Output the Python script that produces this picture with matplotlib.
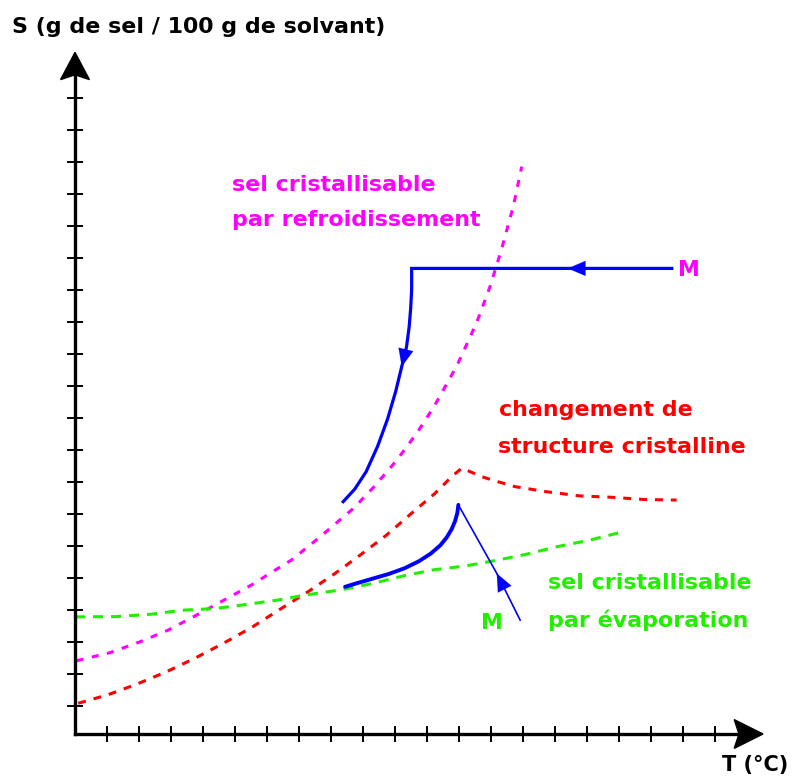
import numpy as np
import matplotlib
matplotlib.use("Agg")
import matplotlib.pyplot as plt
from matplotlib.patches import Polygon

# ---------------- data (T units, S units) ----------------
mag_T = [0.05, 1.09, 2.03, 2.92, 3.75, 4.63, 5.52, 6.35, 6.77, 7.66, 8.70, 9.32,
         10.05, 10.68, 11.20, 11.93, 12.55, 12.97, 13.33, 13.70, 13.96]
mag_S = [2.29, 2.54, 2.88, 3.25, 3.69, 4.17, 4.66, 5.18, 5.44, 6.16, 7.05, 7.70,
         8.55, 9.40, 10.20, 11.50, 12.85, 13.98, 15.15, 16.50, 17.73]

red_T = [0.10, 1.04, 1.91, 2.87, 3.77, 4.63, 5.52, 6.38, 7.29, 8.13, 8.91, 9.74,
         10.52, 11.25, 11.78, 12.09, 12.71, 13.23, 13.75, 14.74, 15.78, 16.72, 17.76, 18.80]
red_S = [0.96, 1.23, 1.55, 1.95, 2.38, 2.83, 3.33, 3.88, 4.45, 5.02, 5.59, 6.22,
         6.90, 7.52, 8.05, 8.31, 8.04, 7.88, 7.73, 7.57, 7.44, 7.40, 7.33, 7.31]

grn_T = [0.0, 1.30, 2.34, 3.38, 4.38, 5.37, 6.30, 7.24, 8.28, 9.32, 10.26, 11.20,
         12.19, 13.13, 14.12, 15.05, 16.09, 17.09]
grn_S = [3.66, 3.67, 3.74, 3.87, 3.92, 4.05, 4.18, 4.35, 4.50, 4.71, 4.94, 5.13,
         5.25, 5.42, 5.62, 5.85, 6.06, 6.31]

# cooling path (from M, left then down)
cool_T = [18.65, 15.40, 10.52, 10.52, 10.49, 10.44, 10.36, 10.21, 10.02, 9.77, 9.46, 9.10, 8.74, 8.38]
cool_S = [14.55, 14.55, 14.55, 13.88, 13.30, 12.70, 12.10, 11.48, 10.70, 9.85, 9.00, 8.20, 7.65, 7.26]
cool_arrows = [1, 7]

# evaporation path (from M, up-left) thin part
evap_T = [13.91, 13.18, 11.98]
evap_S = [3.56, 5.02, 7.16]
evap_arrows = [1]
# then thick curve
evap2_T = [11.98, 11.95, 11.88, 11.77, 11.62, 11.42, 11.12, 10.75, 10.30, 9.80, 9.25, 8.80, 8.44]
evap2_S = [7.16, 6.92, 6.66, 6.40, 6.15, 5.90, 5.64, 5.40, 5.18, 5.00, 4.84, 4.71, 4.60]

x_ticks = list(range(1, 21))
y_ticks = [0.875 + k for k in range(20)]

BLUE = "#0000ff"
MAG = "#ff00ff"
RED = "#ff0000"
GRN = "#22ee00"

# ---------------- figure ----------------
fig = plt.figure(figsize=(7.95, 7.83), dpi=100)
ax = fig.add_axes([0, 0, 1, 1])
ax.set_xlim(-75 / 32, 720 / 32)
ax.set_ylim(-49 / 32, 734 / 32)

for s in ["top", "right"]:
    ax.spines[s].set_visible(False)
ax.spines["left"].set_position(("data", 0))
ax.spines["bottom"].set_position(("data", 0))
ax.spines["left"].set_bounds(0, 20.6)
ax.spines["bottom"].set_bounds(0, 20.7)
for s in ["left", "bottom"]:
    ax.spines[s].set_linewidth(2.4)
    ax.spines[s].set_capstyle("projecting")
ax.set_xticks(x_ticks)
ax.set_yticks(y_ticks)
ax.tick_params(direction="inout", length=11.5, width=1.4, color="black",
               labelbottom=False, labelleft=False)

# axis arrowheads
ax.add_patch(Polygon([[21.5, 0], [20.6, 0.45], [20.75, 0], [20.6, -0.45]],
                     closed=True, color="black", zorder=5))
ax.add_patch(Polygon([[0, 21.3], [0.45, 20.45], [0, 20.6], [-0.45, 20.45]],
                     closed=True, color="black", zorder=5))

# dashed solubility curves
ax.plot(mag_T, mag_S, color=MAG, lw=2.2, ls=(0, (2.3, 2.8)))
ax.plot(red_T, red_S, color=RED, lw=2.2, ls=(0, (2.6, 2.6)))
ax.plot(grn_T, grn_S, color=GRN, lw=2.2, ls=(0, (3.3, 2.6)))

# blue paths
ax.plot(cool_T, cool_S, color=BLUE, lw=2.3, solid_joinstyle="miter")
ax.plot(evap_T, evap_S, color=BLUE, lw=1.2)
ax.plot(evap2_T, evap2_S, color=BLUE, lw=2.8, solid_capstyle="round")

def arrow_at(T, S, i, lw):
    ax.annotate("", xy=(T[i], S[i]), xytext=(T[i - 1], S[i - 1]),
                arrowprops=dict(arrowstyle="-|>,head_length=0.7,head_width=0.3",
                                color=BLUE, lw=lw, mutation_scale=18,
                                shrinkA=0, shrinkB=0))

for i in cool_arrows:
    arrow_at(cool_T, cool_S, i, 0.1)
for i in evap_arrows:
    arrow_at(evap_T, evap_S, i, 0.1)

# texts
font = dict(family="DejaVu Sans", fontsize=15.9, fontweight="bold")
ax.text(-1.97, 22.09, "S (g de sel / 100 g de solvant)", ha="left", va="center",
        color="black", **font)
ax.text(20.22, -0.97, "T (°C)", ha="left", va="center", color="black",
        family="DejaVu Sans", fontsize=15, fontweight="bold")

ax.text(4.91, 17.16, "sel cristallisable", ha="left", va="center", color=MAG, **font)
ax.text(4.91, 16.06, "par refroidissement", ha="left", va="center", color=MAG, **font)
ax.text(18.85, 14.5, "M", ha="left", va="center", color=MAG, **font)

ax.text(13.25, 10.12, "changement de", ha="left", va="center", color=RED, **font)
ax.text(13.22, 8.97, "structure cristalline", ha="left", va="center", color=RED, **font)

ax.text(14.78, 4.72, "sel cristallisable", ha="left", va="center", color=GRN, **font)
ax.text(14.78, 3.56, "par évaporation", ha="left", va="center", color=GRN, **font)
ax.text(12.7, 3.47, "M", ha="left", va="center", color=GRN, **font)

fig.savefig("out.png", dpi=100)
